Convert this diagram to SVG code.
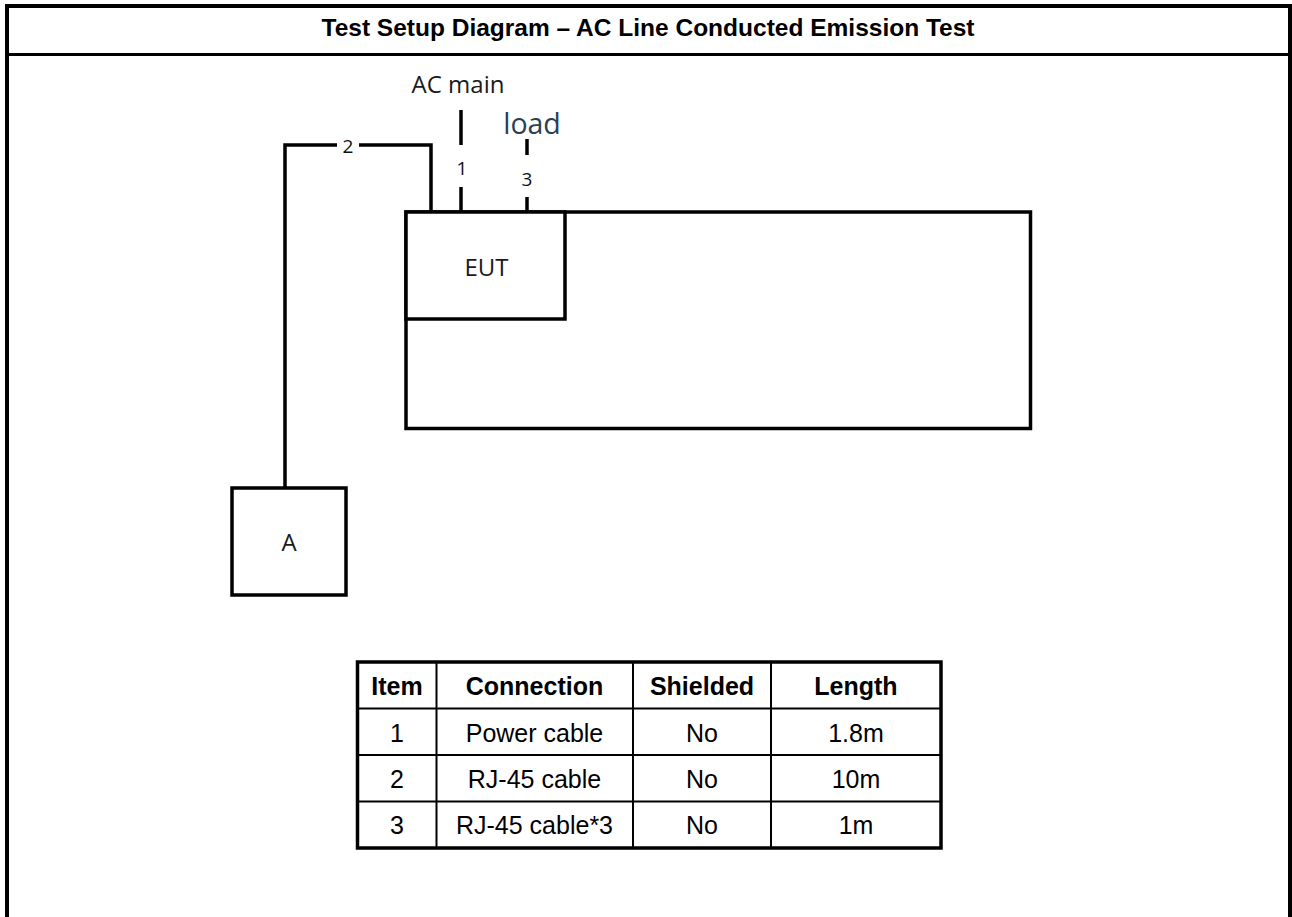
<svg xmlns="http://www.w3.org/2000/svg" width="1292" height="917" viewBox="0 0 1292 917">
<style>
.frame{fill:none;stroke:#000;stroke-width:4}
.box{fill:#fff;stroke:#000;stroke-width:3.5}
.wire{fill:none;stroke:#000;stroke-width:3.5}
.grid{fill:none;stroke:#000;stroke-width:2}
.gridout{fill:none;stroke:#000;stroke-width:3.5}
.title{font-family:"Liberation Sans",Arial,sans-serif;font-weight:bold;font-size:24.5px;text-anchor:middle;fill:#000}
.lbl{font-family:"Open Sans","Noto Sans",sans-serif;text-anchor:middle;fill:#1a1a1a}
.num{font-family:"Open Sans","Noto Sans",sans-serif;font-size:19px;text-anchor:middle;fill:#111}
.th{font-family:"Liberation Sans",Arial,sans-serif;font-weight:bold;font-size:25px;text-anchor:middle;fill:#000}
.td{font-family:"Liberation Sans",Arial,sans-serif;font-size:25px;text-anchor:middle;fill:#000}
</style>
<rect width="1292" height="917" fill="#fff"/>
<g id="frame">
<path class="frame" d="M7,917 V6 H1290 V917"/>
<line x1="7" y1="54.5" x2="1290" y2="54.5" stroke="#000" stroke-width="3"/>
<text class="title" x="648" y="36">Test Setup Diagram – AC Line Conducted Emission Test</text>
</g>
<g id="connectors">
<path class="wire" d="M285,488 V145 H337"/>
<path class="wire" d="M359,145 H431 V212"/>
<text class="num" x="348" y="153">2</text>
<line class="wire" x1="461" y1="110" x2="461" y2="145"/>
<line class="wire" x1="461" y1="187" x2="461" y2="212"/>
<text class="num" x="462" y="175">1</text>
<line class="wire" x1="527" y1="139" x2="527" y2="155"/>
<line class="wire" x1="527" y1="197" x2="527" y2="212"/>
<text class="num" x="527" y="186">3</text>
</g>
<g id="ac-main">
<text class="lbl" x="458" y="93" font-size="24">AC main</text>
</g>
<g id="load">
<text class="lbl" x="532" y="134" font-size="28.5" style="fill:#2b3f55">load</text>
</g>
<g id="table-setup">
<rect class="box" x="406" y="212" width="624.5" height="216.5"/>
</g>
<g id="eut">
<rect class="box" x="406" y="212" width="159" height="107"/>
<text class="lbl" x="486.5" y="276" font-size="24">EUT</text>
</g>
<g id="a">
<rect class="box" x="232" y="488" width="114" height="107"/>
<text class="lbl" x="289" y="551" font-size="24">A</text>
</g>
<g id="cable-table">
<rect class="gridout" x="357.5" y="662" width="583.5" height="186"/>
<line class="grid" x1="357" y1="708.5" x2="941" y2="708.5"/>
<line class="grid" x1="357" y1="755" x2="941" y2="755"/>
<line class="grid" x1="357" y1="801.5" x2="941" y2="801.5"/>
<line class="grid" x1="436.5" y1="662" x2="436.5" y2="848"/>
<line class="grid" x1="633" y1="662" x2="633" y2="848"/>
<line class="grid" x1="771" y1="662" x2="771" y2="848"/>
<text class="th" x="397" y="695">Item</text>
<text class="th" x="534.5" y="695">Connection</text>
<text class="th" x="702" y="695">Shielded</text>
<text class="th" x="856" y="695">Length</text>
<text class="td" x="397" y="742">1</text>
<text class="td" x="534.5" y="742">Power cable</text>
<text class="td" x="702" y="742">No</text>
<text class="td" x="856" y="742">1.8m</text>
<text class="td" x="397" y="788">2</text>
<text class="td" x="534.5" y="788">RJ-45 cable</text>
<text class="td" x="702" y="788">No</text>
<text class="td" x="856" y="788">10m</text>
<text class="td" x="397" y="834">3</text>
<text class="td" x="534.5" y="834">RJ-45 cable*3</text>
<text class="td" x="702" y="834">No</text>
<text class="td" x="856" y="834">1m</text>
</g>
</svg>
